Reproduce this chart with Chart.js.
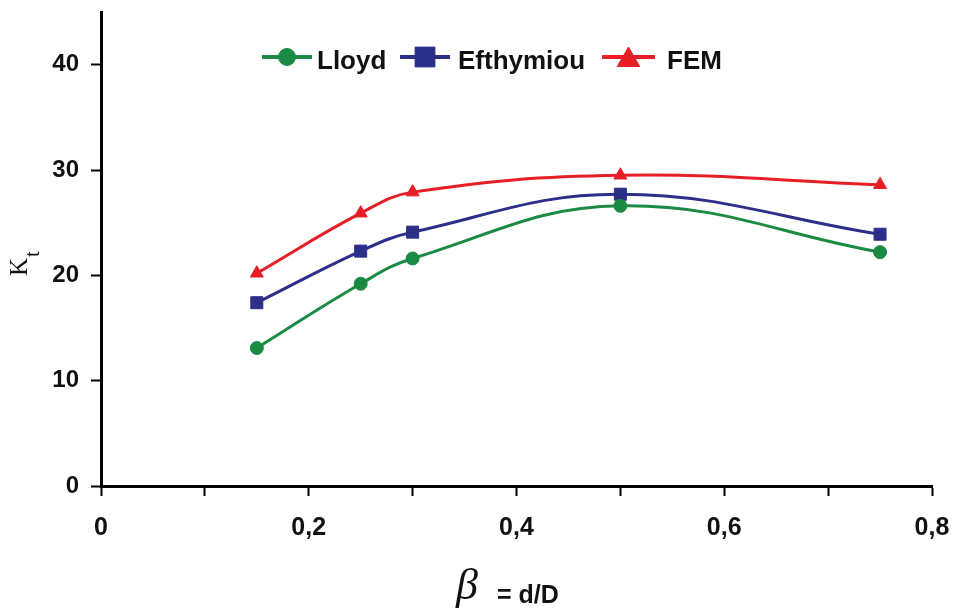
<!DOCTYPE html>
<html>
<head>
<meta charset="utf-8">
<script src="https://cdn.jsdelivr.net/npm/chart.js@4/dist/chart.umd.min.js"></script>
<style>
  html, body { margin: 0; padding: 0; background: #fff; }
  #wrap { width: 954px; height: 609px; position: relative; }
</style>
</head>
<body>
<div id="wrap"><canvas id="c" width="954" height="609"></canvas></div>
<script>
// ---- data ----
const betaValues = [0.15, 0.25, 0.3, 0.5, 0.75];
const lloydKt = [13.1, 19.2, 21.6, 26.6, 22.2];
const efthymiouKt = [17.4, 22.3, 24.1, 27.7, 23.9];
const femKt = [20.2, 25.9, 27.9, 29.5, 28.6];
const seriesNames = ['Lloyd', 'Efthymiou', 'FEM'];
const xTickLabels = ['0', '0,2', '0,4', '0,6', '0,8'];
const yTickLabels = ['0', '10', '20', '30', '40'];
const yAxisTitle = ['K', 't'];
const xAxisTitle = ['\u03B2', '= d/D'];

const colors = ['#1b8a43', '#2b2f88', '#e61e25'];
const styles = ['circle', 'rect', 'triangle'];
const radii = [6.5, 8.5, 7.5];

function pts(vals) { return betaValues.map((b, i) => ({ x: b, y: vals[i] })); }
const seriesVals = [lloydKt, efthymiouKt, femKt];

const datasets = seriesNames.map((n, i) => ({
  label: n,
  data: pts(seriesVals[i]),
  borderColor: colors[i],
  backgroundColor: colors[i],
  pointBackgroundColor: colors[i],
  pointBorderColor: colors[i],
  pointBorderWidth: 1,
  pointStyle: styles[i],
  pointRadius: radii[i],
  borderWidth: 3,
  tension: 0.4,
  fill: false,
  clip: false
}));

const extras = {
  id: 'extras',
  afterDraw(chart) {
    const ctx = chart.ctx;
    ctx.save();
    // legend
    const lineStart = [262, 400, 602];
    const lineEnd = [312, 450, 655];
    const textX = [317, 458, 667];
    const legR = [8.5, 14, 13];
    const ly = 57;
    for (let i = 0; i < 3; i++) {
      ctx.strokeStyle = colors[i];
      ctx.lineWidth = 4;
      ctx.beginPath();
      ctx.moveTo(lineStart[i], ly);
      ctx.lineTo(lineEnd[i], ly);
      ctx.stroke();
      ctx.fillStyle = colors[i];
      ctx.strokeStyle = colors[i];
      ctx.lineWidth = 1;
      const cx = (lineStart[i] + lineEnd[i]) / 2;
      Chart.helpers.drawPoint(ctx, { pointStyle: styles[i], radius: legR[i], rotation: 0, borderWidth: 1 }, cx, ly + (i === 2 ? 3 : 0));
      ctx.fillStyle = '#111';
      ctx.font = 'bold 26px "Liberation Sans", Arial, sans-serif';
      ctx.textAlign = 'left';
      ctx.textBaseline = 'alphabetic';
      ctx.fillText(seriesNames[i], textX[i], 69);
    }
    // y title
    ctx.save();
    ctx.translate(27, 276);
    ctx.rotate(-Math.PI / 2);
    ctx.fillStyle = '#111';
    ctx.font = '25px "Liberation Serif", "Times New Roman", serif';
    ctx.textAlign = 'left';
    ctx.textBaseline = 'alphabetic';
    ctx.fillText(yAxisTitle[0], 0, 0);
    const kw = ctx.measureText(yAxisTitle[0]).width;
    ctx.font = '21px "Liberation Serif", "Times New Roman", serif';
    ctx.fillText(yAxisTitle[1], kw + 1, 12);
    ctx.restore();
    // x title
    ctx.fillStyle = '#111';
    ctx.font = 'italic 44px "Liberation Serif", "Times New Roman", serif';
    ctx.textAlign = 'left';
    ctx.textBaseline = 'alphabetic';
    ctx.fillText(xAxisTitle[0], 456, 599);
    ctx.font = 'bold 25px "Liberation Sans", Arial, sans-serif';
    ctx.fillText(xAxisTitle[1], 497, 603);
    ctx.restore();
  }
};

new Chart(document.getElementById('c'), {
  type: 'line',
  data: { datasets },
  options: {
    responsive: false,
    devicePixelRatio: 1,
    animation: false,
    layout: { padding: { left: 0, right: 22, top: 12, bottom: 0 } },
    plugins: { legend: { display: false }, tooltip: { enabled: false } },
    scales: {
      x: {
        type: 'linear',
        min: 0, max: 0.8,
        afterFit(s) { s.height = 123; s.paddingLeft = 0; s.paddingRight = 0; },
        border: { display: true, color: '#000', width: 3 },
        grid: { display: true, drawOnChartArea: false, drawTicks: true, tickLength: 10, tickColor: '#000', tickWidth: 2 },
        ticks: {
          stepSize: 0.1,
          autoSkip: false,
          maxRotation: 0,
          padding: 17,
          color: '#111',
          font: { family: '"Liberation Sans", Arial, sans-serif', size: 25, weight: 'bold' },
          callback(v) {
            const k = Math.round(v * 10);
            return k % 2 === 0 ? xTickLabels[k / 2] : '';
          }
        }
      },
      y: {
        min: 0, max: 45,
        afterFit(s) { s.width = 101; s.paddingTop = 0; s.paddingBottom = 0; },
        border: { display: true, color: '#000', width: 3 },
        grid: { display: true, drawOnChartArea: false, drawTicks: true, tickLength: 10, tickColor: '#000', tickWidth: 2 },
        ticks: {
          stepSize: 10,
          includeBounds: false,
          padding: 12,
          color: '#111',
          font: { family: '"Liberation Sans", Arial, sans-serif', size: 24, weight: 'bold' },
          callback(v) {
            const k = Math.round(v / 10);
            return yTickLabels[k] !== undefined ? yTickLabels[k] : '';
          }
        }
      }
    }
  },
  plugins: [extras]
});
</script>
</body>
</html>
